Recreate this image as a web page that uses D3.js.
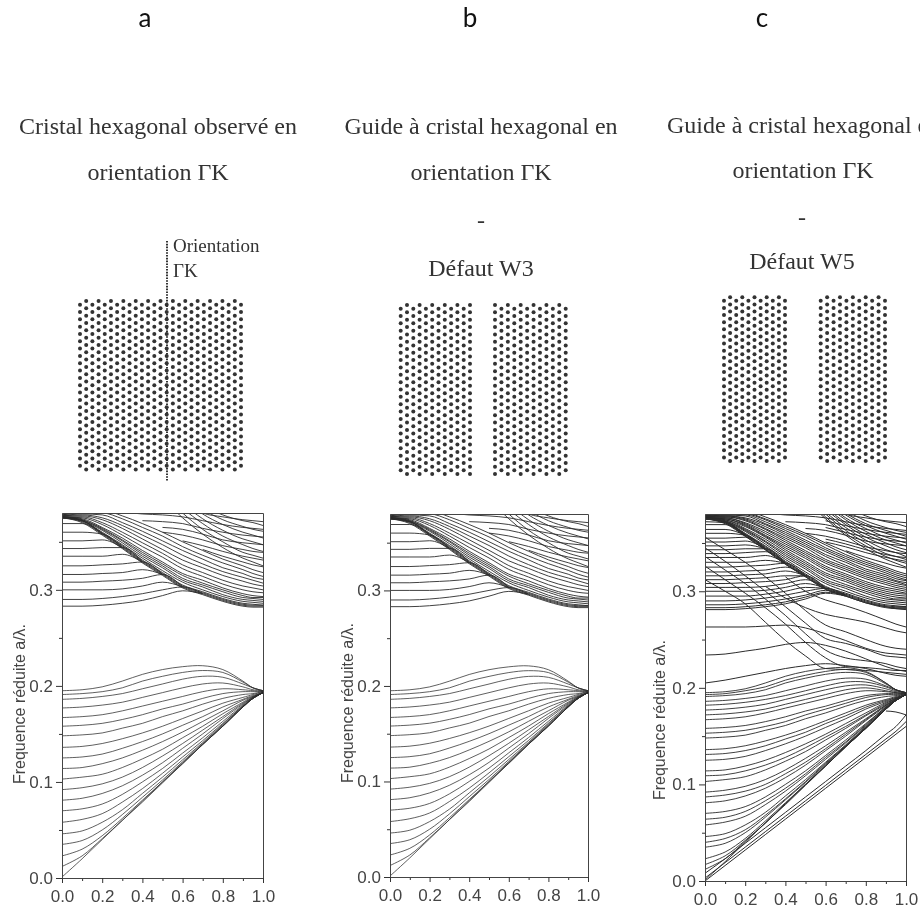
<!DOCTYPE html>
<html>
<head>
<meta charset="utf-8">
<script src="https://cdn.jsdelivr.net/npm/d3@7"></script>
<style>
  body { margin: 0; background: #fff; }
  svg { display: block; filter: blur(0.45px); }
</style>
</head>
<body>
<script>
// wave vector samples, all curves below are read at these k
var kSamples = [0, .1, .2, .3, .4, .5, .6, .7, .8, .9, .95, 1];

// frequencies in thousandths of a/lambda, null = no line there
var lowerBand = [
  [1,20,40,60,79,99,119,139,158,178,187,193],
  [12,23,41,60,80,100,119,139,158,178,187,193],
  [23,30,44,62,81,100,120,139,158,178,187,193],
  [35,39,50,66,84,102,121,140,159,178,187,193],
  [46,49,58,71,88,105,123,141,160,179,187,193],
  [58,61,67,79,93,109,126,143,161,179,187,193],
  [70,72,77,87,100,114,130,146,163,180,188,193],
  [81,83,88,96,107,120,135,150,166,181,188,193],
  [92,94,98,105,115,127,140,154,168,182,188,193],
  [103,105,108,115,124,134,146,158,171,183,189,193],
  [114,115,119,125,133,142,152,163,174,185,189,193],
  [125,126,129,135,142,150,159,168,178,186,190,193],
  [136,137,140,145,151,158,166,174,182,188,191,194],
  [148,149,151,156,161,168,174,181,187,191,192,194],
  [158,159,161,165,170,176,181,187,192,194,194,194],
  [167,168,170,174,179,184,189,194,197,196,195,194],
  [177,178,180,183,188,193,198,202,203,199,196,195],
  [186,187,189,192,197,202,207,210,209,202,198,195],
  [191,192,194,198,205,210,214,216,214,204,198,195],
  [195,196,199,205,212,217,220,221,217,205,198,195]
];

// flat lines left of the ridge, each one stops where it meets the ridge
var upperLeft = [
  [283,283,284,286,289,294,299,296,null,null,null,null],
  [290,290,291,293,296,300,303,296,null,null,null,null],
  [300,300,300,301,304,308,303,null,null,null,null,null],
  [308,308,309,310,312,316,303,null,null,null,null,null],
  [316,316,317,318,321,316,null,null,null,null,null,null],
  [325,325,326,327,329,316,null,null,null,null,null,null],
  [335,335,335,337,329,null,null,null,null,null,null,null],
  [343,343,344,344,329,null,null,null,null,null,null,null],
  [351,351,352,344,null,null,null,null,null,null,null,null],
  [360,360,358,344,null,null,null,null,null,null,null,null],
  [369,369,358,null,null,null,null,null,null,null,null,null]
];

// the ridge itself
var ridge = [
  [375,371,358,344,329,316,303,296,289,284,283,283],
  [375,370,357,343,328,315,302,295,288,283,282,282],
  [376,372,359,345,330,317,304,297,290,285,284,284]
];

// striped band above the ridge
var upperBand = [
  [375,372,359,346,331,318,305,298,291,286,285,284],
  [375,372,360,347,333,320,308,300,293,288,287,286],
  [375,372,362,349,335,323,310,303,295,290,289,288],
  [376,373,363,351,337,325,312,305,298,292,291,290],
  [376,373,364,352,339,327,315,307,300,294,292,292],
  [376,374,365,354,341,329,317,310,302,296,294,293],
  [376,375,368,357,345,334,322,314,306,300,298,297],
  [376,376,370,360,349,338,326,318,310,304,302,300],
  [377,377,373,364,353,342,331,323,315,309,306,304],
  [377,378,375,367,357,347,336,327,319,313,310,307],
  [377,379,378,370,361,351,341,332,323,317,313,311],
  [378,380,380,374,365,356,345,336,328,321,317,314],
  [378,381,383,377,369,360,350,341,332,325,321,318]
];

// group falling in from the top right corner
var upperRight = [
  [null,null,null,null,null,395,375,358,344,333,329,325],
  [null,null,null,null,null,400,380,363,350,339,336,333],
  [null,null,null,null,null,405,385,369,356,347,343,340],
  [null,null,null,null,null,410,390,374,362,353,350,347],
  [null,null,null,null,null,415,395,379,368,360,357,354],
  [null,null,null,null,null,420,400,384,373,366,363,361],
  [null,null,null,null,null,425,405,388,378,372,370,367],
  [null,null,null,null,null,null,395,380,376,373,372,371]
];

// nearly flat lines through the white pocket
var upperGap = [
  [null,null,null,381,379,378,376,372,368,365,364,363],
  [null,null,null,null,372,371,369,364,360,357,356,355],
  [null,null,null,null,null,365,363,358,352,349,348,347],
  [null,null,null,null,null,360,357,352,346,342,340,339],
  [null,null,null,null,null,null,351,346,340,335,333,331],
  [null,null,null,null,null,null,null,342,335,329,326,324]
];

// panel c is denser, these come on top of the lists above
var lowerExtraC = [
  [17,26,42,60,80,100,119,139,158,178,187,193],
  [40,44,53,68,85,103,122,140,159,178,187,193],
  [64,66,72,83,96,111,128,144,162,180,187,193],
  [87,89,93,100,111,123,137,152,167,182,188,193],
  [109,110,114,120,128,138,149,160,172,184,189,193],
  [131,132,135,140,147,154,163,171,180,187,190,193],
  [153,154,156,160,165,172,178,184,190,193,193,194],
  [172,173,175,178,183,188,193,198,200,197,195,194],
  [182,183,185,188,192,197,202,206,206,201,197,195],
  [193,194,197,201,208,213,217,219,216,205,198,195]
];

var upperExtraC = [
  [281,281,282,284,287,292,298,295,null,null,null,null],
  [286,286,287,289,292,296,301,296,null,null,null,null],
  [295,295,295,297,300,304,303,null,null,null,null,null],
  [304,304,304,305,308,312,303,null,null,null,null,null],
  [312,312,313,314,316,316,null,null,null,null,null,null],
  [320,320,321,322,325,316,null,null,null,null,null,null],
  [330,330,330,332,329,null,null,null,null,null,null,null],
  [339,339,340,341,329,null,null,null,null,null,null,null],
  [347,347,348,344,null,null,null,null,null,null,null,null],
  [355,355,356,344,null,null,null,null,null,null,null,null],
  [364,364,358,null,null,null,null,null,null,null,null,null],
  [372,371,358,null,null,null,null,null,null,null,null,null],
  [375,371,357,343,328,315,302,295,288,284,282,281],
  [376,374,367,356,343,331,319,312,304,298,296,295],
  [376,375,369,358,347,336,324,316,308,302,300,298],
  [376,376,371,362,351,340,329,321,313,307,304,302],
  [377,377,374,365,355,345,333,325,317,311,308,306],
  [377,378,376,369,359,349,338,330,321,315,311,309],
  [377,379,379,372,363,353,343,334,326,319,315,312],
  [378,380,381,375,367,358,348,338,330,323,319,316],
  [null,null,null,null,null,397,377,360,347,336,332,329],
  [null,null,null,null,null,402,382,366,353,343,340,336],
  [null,null,null,null,null,407,387,371,359,350,346,343],
  [null,null,null,null,null,412,392,376,365,356,353,350],
  [null,null,null,null,null,418,398,381,370,363,360,357],
  [null,null,null,null,null,null,373,368,364,361,360,359],
  [null,null,null,null,null,null,366,361,356,353,352,351],
  [null,null,null,null,null,null,354,349,343,338,336,335]
];

// guided modes of the W5 defect
var defectModesC = [
  [0,16,32,48,64,80,96,112,128,144,152,160],
  [3,19,35,51,67,83,99,115,131,147,155,165],
  [8,23,39,55,71,87,103,119,135,152,160,172],
  [null,null,null,null,null,null,null,null,null,176,175,172],
  [263,263,263,264,265,262,256,249,241,236,235,234],
  [null,null,null,305,293,283,276,272,268,262,259,257],
  [null,null,null,null,315,300,291,285,278,270,266,263],
  [234,235,238,241,245,247,244,238,230,222,219,217],
  [205,208,212,216,220,223,225,223,220,215,213,212],
  [312,300,287,268,249,233,220,219,218,216,215,214],
  [326,312,298,283,266,247,231,222,221,219,218,218],
  [336,322,308,292,275,256,239,231,228,225,222,220],
  [345,331,316,300,284,267,251,246,240,233,232,231],
  [356,343,330,315,298,280,265,258,250,243,241,240]
];

// ticks
var xMajor = [0, .2, .4, .6, .8, 1];
var xMinor = [.1, .3, .5, .7, .9];
var yMajor = [0, .1, .2, .3];
var yMinor = [.05, .15, .25, .35];

// titles
var titlesA = ["Cristal hexagonal observé en", "orientation ΓK"];
var titlesB = ["Guide à cristal hexagonal en", "orientation ΓK", "-", "Défaut W3"];
var titlesC = ["Guide à cristal hexagonal en", "orientation ΓK", "-", "Défaut W5"];
var yLabel = "Frequence réduite a/λ.";

// lattice size: dots per tall column and columns per block
var latticeRows = 24;
var latticeColsA = [27];
var latticeColsB = [12, 12];
var latticeColsC = [11, 11];

var w = 920;
var h = 911;
var serif = "'Liberation Serif', serif";
var sans = "'Liberation Sans', sans-serif";

var svg = d3.select("body").append("svg").attr("width", w).attr("height", h);

var bandsAB = [lowerBand, upperLeft, ridge, upperBand, upperRight, upperGap];
var bandsC = bandsAB.concat([lowerExtraC, upperExtraC, defectModesC]);

// the three plots
drawPlot("a", { left: 62, right: 263, bottom: 878, top: 513, labelX: 25, labelY: 704, stroke: 0.9, lower: 0.75 }, bandsAB);
drawPlot("b", { left: 390, right: 588, bottom: 877, top: 514, labelX: 353, labelY: 703, stroke: 0.9, lower: 0.75 }, bandsAB);
drawPlot("c", { left: 705, right: 906, bottom: 881, top: 514, labelX: 665, labelY: 720, stroke: 1, lower: 0.9 }, bandsC);

function drawPlot(id, p, bands) {
  var x = d3.scaleLinear().domain([0, 1]).range([p.left, p.right]);
  var y = d3.scaleLinear().domain([0, .38]).range([p.bottom, p.top]);

  var g = svg.append("g");

  g.append("clipPath").attr("id", "clip-" + id).append("rect")
    .attr("x", p.left).attr("y", p.top)
    .attr("width", p.right - p.left).attr("height", p.bottom - p.top);

  var line = d3.line()
    .defined(function(d) { return d != null; })
    .x(function(d, i) { return x(kSamples[i]); })
    .y(function(d) { return y(d / 1000); })
    .curve(d3.curveMonotoneX);

  var curves = g.append("g").attr("clip-path", "url(#clip-" + id + ")");
  bands.forEach(function(band) {
    // the lower band is smooth, a spline follows it better
    var isLower = band == lowerBand || band == lowerExtraC;
    line.curve(isLower ? d3.curveCatmullRom.alpha(.5) : d3.curveMonotoneX);
    curves.selectAll(null)
      .data(band)
      .enter()
      .append("path")
      .attr("d", line)
      .attr("fill", "none")
      .attr("stroke", "#2b2b2b")
      .attr("stroke-width", isLower ? p.lower : p.stroke);
  });

  // frame
  g.append("g").attr("transform", "translate(0," + p.top + ")")
    .call(d3.axisTop(x).tickValues([]).tickSizeOuter(0));
  g.append("g").attr("transform", "translate(" + p.right + ",0)")
    .call(d3.axisRight(y).tickValues([]).tickSizeOuter(0));

  // minor ticks, then major ticks with labels
  g.append("g").attr("transform", "translate(0," + p.bottom + ")")
    .call(d3.axisBottom(x).tickValues(xMinor).tickSize(3).tickFormat("").tickSizeOuter(0));
  g.append("g").attr("transform", "translate(" + p.left + ",0)")
    .call(d3.axisLeft(y).tickValues(yMinor).tickSize(3).tickFormat("").tickSizeOuter(0));
  g.append("g").attr("transform", "translate(0," + p.bottom + ")")
    .call(d3.axisBottom(x).tickValues(xMajor).tickSize(5).tickPadding(7).tickFormat(d3.format(".1f")).tickSizeOuter(0));
  g.append("g").attr("transform", "translate(" + p.left + ",0)")
    .call(d3.axisLeft(y).tickValues(yMajor).tickSize(6).tickPadding(3).tickFormat(d3.format(".1f")).tickSizeOuter(0));

  g.selectAll(".domain").attr("stroke", "#444").attr("stroke-width", 1);
  g.selectAll(".tick line").attr("stroke", "#333");
  g.selectAll(".tick text")
    .attr("font-family", sans)
    .attr("font-size", "17px")
    .attr("fill", "#444");

  g.append("text")
    .text(yLabel)
    .attr("transform", "translate(" + p.labelX + "," + p.labelY + ") rotate(-90)")
    .attr("text-anchor", "middle")
    .attr("font-family", sans)
    .attr("font-size", "16px")
    .attr("fill", "#444");
}

// hexagonal dot lattices
drawLattice(latticeColsA[0], 80, 241, 301, 469.5, true);
drawLattice(latticeColsB[0], 400.7, 470, 305, 474, true);
drawLattice(latticeColsB[1], 495, 565.7, 305, 474, false);
drawLattice(latticeColsC[0], 724, 785, 297.3, 461, true);
drawLattice(latticeColsC[1], 820.7, 885, 297.3, 461, true);

function drawLattice(cols, x0, x1, y0, y1, firstShort) {
  var xs = d3.scaleLinear().domain([0, cols - 1]).range([x0, x1]);
  var ys = d3.scaleLinear().domain([0, latticeRows - 1]).range([y0, y1]);
  var dots = [];
  d3.range(cols).forEach(function(c) {
    var short = (c % 2 == 0) == firstShort;
    d3.range(short ? latticeRows - 1 : latticeRows).forEach(function(r) {
      dots.push({ c: c, r: short ? r + .5 : r });
    });
  });
  svg.append("g").style("filter", "blur(0.7px)").selectAll("circle")
    .data(dots)
    .enter()
    .append("circle")
    .attr("cx", function(d) { return xs(d.c); })
    .attr("cy", function(d) { return ys(d.r); })
    .attr("r", 2)
    .attr("fill", "#333");
}

// dotted orientation line on panel a
svg.append("line")
  .attr("x1", 167).attr("x2", 167).attr("y1", 241).attr("y2", 481)
  .attr("stroke", "#333").attr("stroke-width", 2).attr("stroke-dasharray", "1.6 1.2");

function addText(str, x, y, size, family, anchor, fill) {
  svg.append("text")
    .text(str)
    .attr("x", x)
    .attr("y", y)
    .attr("font-family", family)
    .attr("font-size", size + "px")
    .attr("text-anchor", anchor)
    .attr("fill", fill);
}

// panel letters
var letterFont = "Lato, sans-serif";
addText("a", 145, 27, 26, letterFont, "middle", "#111");
addText("b", 470, 27, 26, letterFont, "middle", "#111");
addText("c", 762, 27, 26, letterFont, "middle", "#111");

// titles above each panel
var ink = "#333";
addText(titlesA[0], 158, 134, 24, serif, "middle", ink);
addText(titlesA[1], 158, 180, 24, serif, "middle", ink);
addText("Orientation", 173, 252, 19, serif, "start", ink);
addText("ΓK", 173, 277, 19, serif, "start", ink);

addText(titlesB[0], 481, 134, 24, serif, "middle", ink);
addText(titlesB[1], 481, 180, 24, serif, "middle", ink);
addText(titlesB[2], 481, 228, 24, serif, "middle", ink);
addText(titlesB[3], 481, 276, 24, serif, "middle", ink);

addText(titlesC[0], 667, 133, 24, serif, "start", ink);
addText(titlesC[1], 803, 178, 24, serif, "middle", ink);
addText(titlesC[2], 802, 225, 24, serif, "middle", ink);
addText(titlesC[3], 802, 269, 24, serif, "middle", ink);
</script>
</body>
</html>
